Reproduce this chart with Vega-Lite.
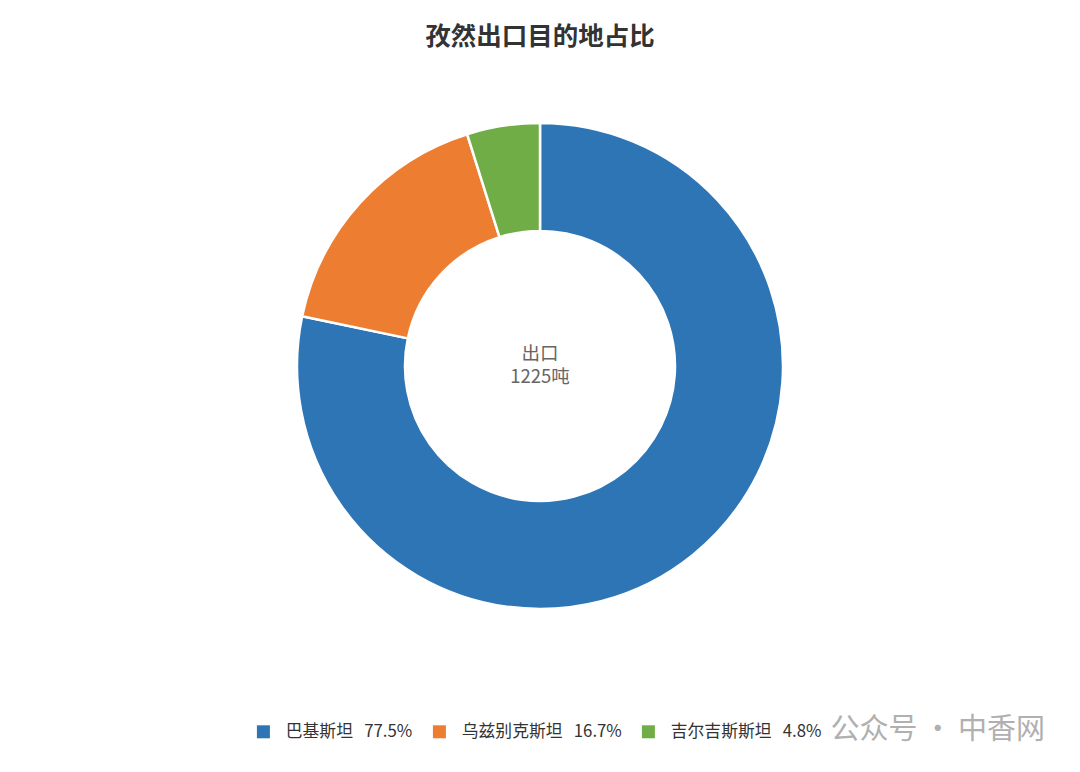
{
  "$schema": "https://vega.github.io/schema/vega-lite/v6.json",
  "title": {
    "text": "孜然出口目的地占比",
    "font": "Noto Sans CJK SC",
    "fontSize": 25.5,
    "fontWeight": "bold",
    "color": "#333333",
    "anchor": "middle",
    "offset": 0,
    "dy": -10
  },
  "width": 1080,
  "height": 612,
  "autosize": {"type": "none"},
  "padding": {"top": 60, "left": 0, "right": 0, "bottom": 100},
  "background": "white",
  "view": {"stroke": null},
  "layer": [
    {
      "data": {
        "values": [
          {"country": "巴基斯坦\u00a0\u00a0\u00a077.5%", "share": 77.5, "rank": 1},
          {"country": "乌兹别克斯坦\u00a0\u00a0\u00a016.7%", "share": 16.7, "rank": 2},
          {"country": "吉尔吉斯斯坦\u00a0\u00a0\u00a04.8%", "share": 4.8, "rank": 3}
        ]
      },
      "mark": {"type": "arc", "outerRadius": 243, "innerRadius": 135, "stroke": "white", "strokeWidth": 2.5},
      "encoding": {
        "theta": {"field": "share", "type": "quantitative", "stack": true},
        "order": {"field": "rank", "type": "ordinal"},
        "color": {
          "field": "country",
          "type": "nominal",
          "sort": null,
          "scale": {"range": ["#2E75B6", "#ED7D31", "#70AD47"]},
          "legend": {
            "title": null,
            "orient": "none",
            "legendX": 255,
            "legendY": 663,
            "direction": "horizontal",
            "columns": 3,
            "symbolType": "square",
            "symbolSize": 169,
            "symbolStrokeWidth": 0,
            "labelFont": "Noto Sans CJK SC",
            "labelFontSize": 16.8,
            "labelOffset": 14,
            "labelColor": "#333333",
            "labelLimit": 300,
            "columnPadding": 18
          }
        }
      }
    },
    {
      "data": {"values": [{"label": "出口"}]},
      "mark": {"type": "text", "font": "Noto Sans CJK SC", "fontSize": 18.5, "color": "#666666", "align": "center", "baseline": "middle", "dy": -12},
      "encoding": {"text": {"field": "label", "type": "nominal"}}
    },
    {
      "data": {"values": [{"label": "1225吨"}]},
      "mark": {"type": "text", "font": "Noto Sans CJK SC", "fontSize": 18.5, "color": "#666666", "align": "center", "baseline": "middle", "dy": 11},
      "encoding": {"text": {"field": "label", "type": "nominal"}}
    },
    {
      "data": {"values": [{"label": "公众号\u2009·\u2009中香网"}]},
      "mark": {"type": "text", "font": "Noto Sans CJK SC", "fontSize": 29, "color": "#b0b0b0", "align": "right", "baseline": "middle", "dx": 505, "dy": 364},
      "encoding": {"text": {"field": "label", "type": "nominal"}}
    }
  ]
}
